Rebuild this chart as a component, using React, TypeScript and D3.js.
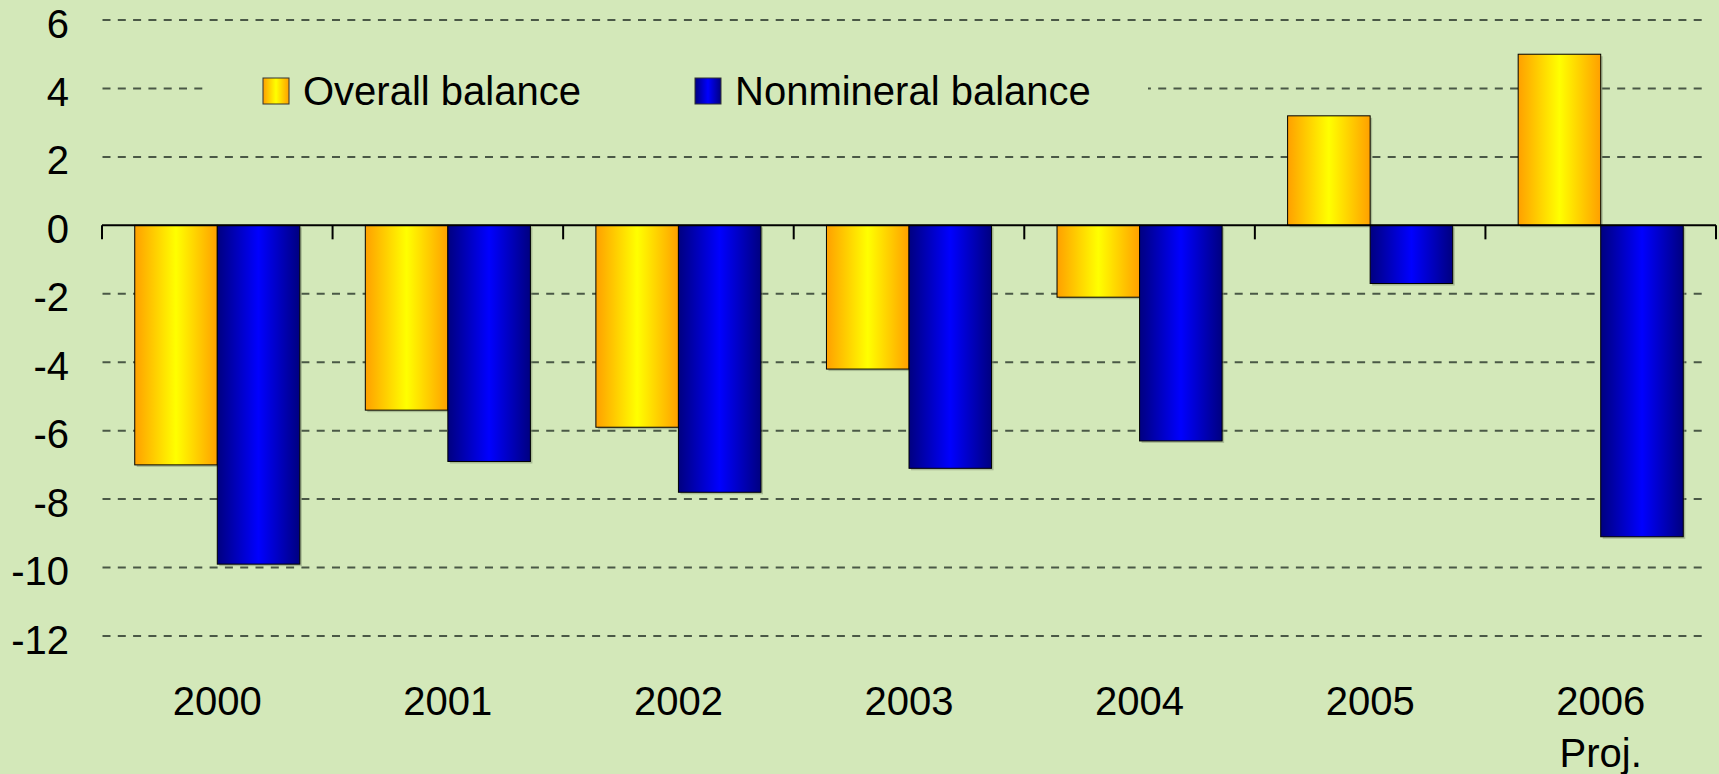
import React, { useEffect } from 'react';
import * as d3 from 'd3';

// chart data
const years = ['2000', '2001', '2002', '2003', '2004', '2005', '2006'];
const overallBalance = [-7.0, -5.4, -5.9, -4.2, -2.1, 3.2, 5.0];
const nonmineralBalance = [-9.9, -6.9, -7.8, -7.1, -6.3, -1.7, -9.1];
const yTicks = [6, 4, 2, 0, -2, -4, -6, -8, -10, -12];
const seriesNames = ['Overall balance', 'Nonmineral balance'];

const WIDTH = 1719;
const HEIGHT = 774;
const BG = '#d3e8b9';
const FONT = '"Liberation Sans", Arial, sans-serif';

const App = () => {
  useEffect(() => {
    document.body.style.margin = '0';
  }, []);

  // scales
  const x = d3.scaleBand<string>().domain(years).range([102, 1716]).padding(0);
  const y = d3.scaleLinear().domain([-12, 6]).range([636, 20]);
  const band = x.bandwidth();
  const barW = band * 0.358;
  const offset = (band - 2 * barW) / 2;
  const y0 = y(0);

  const series = [
    { name: seriesNames[0], values: overallBalance, fill: 'url(#gradOrange)' },
    { name: seriesNames[1], values: nonmineralBalance, fill: 'url(#gradBlue)' },
  ];

  const gridTicks = yTicks.filter(t => t !== 0);

  return (
    <svg width={WIDTH} height={HEIGHT} style={{ display: 'block', background: BG }} fontFamily={FONT}>
      <defs>
        <linearGradient id="gradOrange" x1="0" x2="1" y1="0" y2="0">
          <stop offset="0%" stopColor="#ffa000" />
          <stop offset="50%" stopColor="#ffff00" />
          <stop offset="100%" stopColor="#ffa000" />
        </linearGradient>
        <linearGradient id="gradBlue" x1="0" x2="1" y1="0" y2="0">
          <stop offset="0%" stopColor="#000080" />
          <stop offset="50%" stopColor="#0000ff" />
          <stop offset="100%" stopColor="#000080" />
        </linearGradient>
      </defs>
      <rect x={0} y={0} width={WIDTH} height={HEIGHT} fill={BG} />

      {/* dashed gridlines */}
      {gridTicks.map(t => (
        <line key={t} x1={102.5} x2={1709} y1={y(t)} y2={y(t)}
          stroke="#4a5846" strokeWidth={2} strokeDasharray="8,7.3" />
      ))}

      {/* y tick labels */}
      {yTicks.map(t => (
        <text key={t} x={69} y={y(t) + 17.5} textAnchor="end" fontSize={40} fill="#000">{t}</text>
      ))}

      {/* legend (background box hides the gridline behind it) */}
      <rect x={204} y={60} width={944} height={60} fill={BG} />
      {series.map((s, i) => {
        const lx = i === 0 ? 263 : 695;
        return (
          <g key={s.name}>
            <rect x={lx} y={78} width={26} height={26} fill={s.fill} stroke="#333" strokeWidth={1} />
            <text x={lx + 40} y={105} fontSize={40} fill="#000">{s.name}</text>
          </g>
        );
      })}

      {/* bars */}
      {years.map((yr, i) => (
        <g key={yr}>
          {series.map((s, j) => {
            const v = s.values[i];
            const bx = (x(yr) as number) + offset + j * barW;
            const top = Math.min(y(v), y0);
            const h = Math.abs(y(v) - y0);
            return (
              <g key={s.name}>
                <rect x={bx + 2} y={top + 2} width={barW} height={h} fill="#7f8f70" opacity={0.5} />
                <rect x={bx} y={top} width={barW} height={h} fill={s.fill} stroke="#000" strokeWidth={1} />
              </g>
            );
          })}
        </g>
      ))}

      {/* zero axis and ticks */}
      <line x1={102} x2={1716} y1={y0} y2={y0} stroke="#000" strokeWidth={2} />
      {years.map(yr => (
        <line key={yr} x1={x(yr)} x2={x(yr)} y1={y0} y2={y0 + 14} stroke="#000" strokeWidth={2} />
      ))}
      <line x1={1716} x2={1716} y1={y0} y2={y0 + 14} stroke="#000" strokeWidth={2} />

      {/* x labels */}
      {years.map(yr => (
        <text key={yr} x={(x(yr) as number) + band / 2} y={715} textAnchor="middle" fontSize={40} fill="#000">{yr}</text>
      ))}
      <text x={(x('2006') as number) + band / 2} y={767} textAnchor="middle" fontSize={40} fill="#000">Proj.</text>
    </svg>
  );
};

export default App;
